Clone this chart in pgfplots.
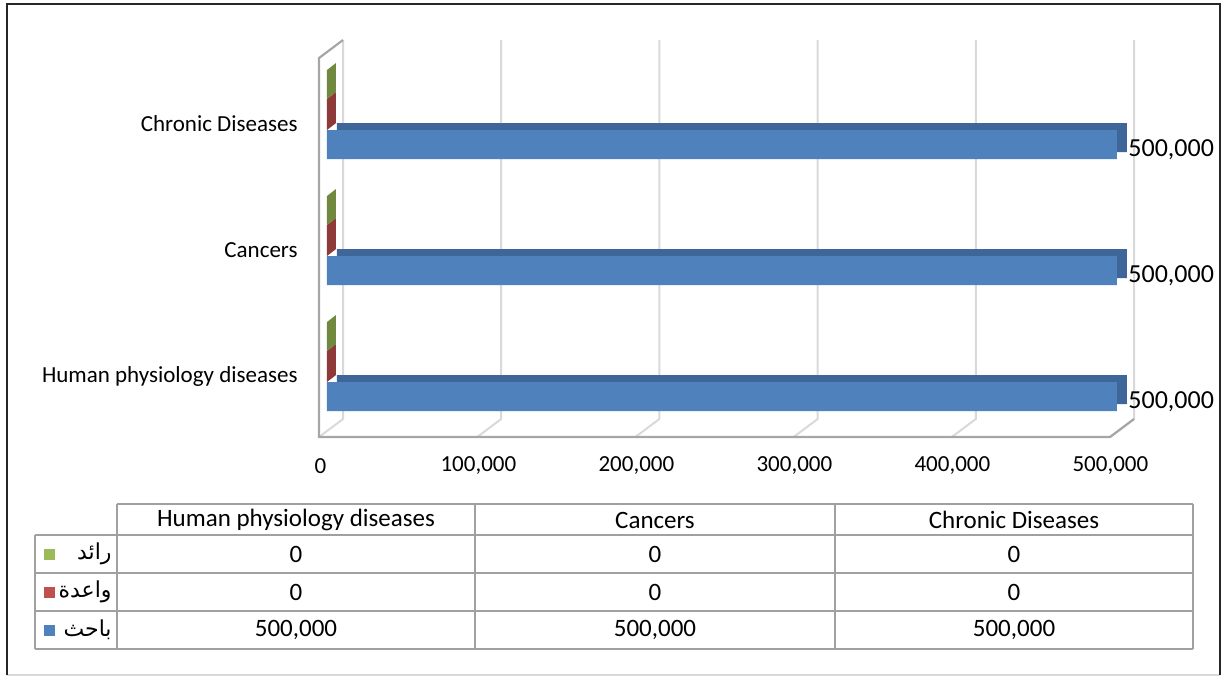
\documentclass[border=0pt]{standalone}
\usepackage{pgfplots}
\usepackage{pgfplotstable}
\pgfplotsset{compat=1.18}
\usepackage{fontspec}
\setmainfont{Carlito}
\newfontfamily\arabicfont[Script=Arabic]{DejaVu Sans}
\TeXXeTstate=1

\definecolor{xblue}{HTML}{4F81BD}
\definecolor{xbluedark}{HTML}{3E6698}
\definecolor{xred}{HTML}{C0504D}
\definecolor{xreddark}{HTML}{8E3A38}
\definecolor{xgreen}{HTML}{9BBB59}
\definecolor{xgreendark}{HTML}{71893F}
\definecolor{gridc}{HTML}{D9D9D9}
\definecolor{wallc}{HTML}{A6A6A6}
\definecolor{tablec}{HTML}{A0A0A0}
\definecolor{framec}{HTML}{262626}

% custom marks: side faces of the zero-length 3D bars
\pgfdeclareplotmark{sliverR}{%
  \pgfpathmoveto{\pgfpoint{0pt}{-3pt}}%
  \pgfpathlineto{\pgfpoint{4.5pt}{0.5pt}}%
  \pgfpathlineto{\pgfpoint{4.5pt}{16pt}}%
  \pgfpathlineto{\pgfpoint{0pt}{12.5pt}}%
  \pgfpathclose\pgfusepathqfill}
\pgfdeclareplotmark{sliverG}{%
  \pgfpathmoveto{\pgfpoint{0pt}{12.5pt}}%
  \pgfpathlineto{\pgfpoint{4.5pt}{16pt}}%
  \pgfpathlineto{\pgfpoint{4.5pt}{30.5pt}}%
  \pgfpathlineto{\pgfpoint{0pt}{27pt}}%
  \pgfpathclose\pgfusepathqfill}

% series: y = category index (0 Human physiology, 1 Cancers, 2 Chronic)
\pgfplotstableread{
y value
0 500000
1 500000
2 500000
}\bahith
\pgfplotstableread{
y value
0 0
1 0
2 0
}\waeda
\pgfplotstableread{
y value
0 0
1 0
2 0
}\raed

\begin{document}
\begin{tikzpicture}
\useasboundingbox (0pt,0pt) rectangle (611pt,338.5pt);
\begin{scope}[x=0.5pt,y=-0.5pt,shift={(0pt,338.5pt)}]
  % outer frame
  \draw[gridc, line width=0.8pt] (7,675) -- (1220,675);
  \draw[framec, line width=1.4pt] (7,675) -- (7,4) -- (1220,4) -- (1220,675);
  % back grid lines and floor diagonals
  \foreach \k in {0,...,5}{
    \pgfmathsetmacro\xb{343+158.2*\k}
    \draw[gridc, line width=1pt] (\xb,40) -- (\xb,419) -- (\xb-24,437);
  }
  % wall and floor edges
  \draw[wallc, line width=1.1pt] (343,40) -- (319,58) -- (319,437) -- (1110,437) -- (1134,419);
\end{scope}

\begin{axis}[
  at={(163.5pt,123pt)}, anchor=south west,
  scale only axis, width=395pt, height=189.5pt,
  xmin=0, xmax=500000, ymin=-0.4365, ymax=2.5714,
  axis line style={draw=none}, tick style={draw=none},
  scaled ticks=false,
  /pgf/number format/.cd, 1000 sep={,}, assume math mode=true, fixed, precision=0,
  /pgfplots/.cd,
  xtick={0,100000,200000,300000,400000,500000},
  ytick={0,1,2},
  yticklabels={Human physiology diseases, Cancers, Chronic Diseases},
  xticklabel style={font=\fontsize{11.5}{13}\selectfont, anchor=center, yshift=-17.5pt, xshift=-3.3pt},
  yticklabel style={font=\fontsize{11.5}{13}\selectfont, anchor=east, inner sep=0pt, xshift=-14.5pt},
  clip=false,
]
  % zero-value bars: only their side faces show
  \addplot[only marks, mark=sliverR, color=xreddark] table[x=value, y=y] {\waeda};
  \addplot[only marks, mark=sliverG, color=xgreendark] table[x=value, y=y] {\raed};
  % 3D depth of the blue bars
  \addplot[xbar, bar width=14.5pt, bar shift=-10.25pt, fill=xbluedark, draw=none,
    xshift=5pt, yshift=3.5pt] table[x=value, y=y] {\bahith};
  % blue bars with value labels
  \addplot[xbar, bar width=14.5pt, bar shift=-10.25pt, fill=xblue, draw=none,
    point meta=x,
    nodes near coords={\pgfmathprintnumber{\pgfplotspointmeta}},
    every node near coord/.append style={anchor=west, inner sep=0pt, xshift=5.5pt, yshift=-13pt,
      font=\fontsize{13}{15}\selectfont, text=black}]
    table[x=value, y=y] {\bahith};
\end{axis}

\begin{scope}[x=0.5pt,y=-0.5pt,shift={(0pt,338.5pt)}]
  % data table grid
  \draw[tablec, line width=1pt] (117,504) -- (1193,504);
  \draw[tablec, line width=1pt] (35,535) -- (1193,535);
  \draw[tablec, line width=1pt] (35,573) -- (1193,573);
  \draw[tablec, line width=1pt] (35,611) -- (1193,611);
  \draw[tablec, line width=1pt] (35,649) -- (1193,649);
  \draw[tablec, line width=1pt] (35,535) -- (35,649);
  \draw[tablec, line width=1pt] (117,504) -- (117,649);
  \draw[tablec, line width=1pt] (475,504) -- (475,649);
  \draw[tablec, line width=1pt] (835,504) -- (835,649);
  \draw[tablec, line width=1pt] (1193,504) -- (1193,649);
  \begin{scope}[font=\fontsize{12.5}{14}\selectfont]
    \node at (296,520) {Human physiology diseases};
    \node at (655,520) {Cancers};
    \node at (1014,520) {Chronic Diseases};
    \node at (296,554) {0};
    \node at (655,554) {0};
    \node at (1014,554) {0};
    \node at (296,592) {0};
    \node at (655,592) {0};
    \node at (1014,592) {0};
    \node at (296,630) {500,000};
    \node at (655,630) {500,000};
    \node at (1014,630) {500,000};
  \end{scope}
  % legend keys
  \fill[xgreen] (44,549) rectangle (55,560);
  \fill[xred]   (44,587) rectangle (55,598);
  \fill[xblue]  (44,625) rectangle (55,636);
  \begin{scope}[font=\fontsize{11}{13}\selectfont]
    \node[anchor=east, inner sep=0pt] at (112,554) {\arabicfont\beginR رائد\endR};
    \node[anchor=east, inner sep=0pt] at (112,592) {\arabicfont\beginR واعدة\endR};
    \node[anchor=east, inner sep=0pt] at (112,630) {\arabicfont\beginR باحث\endR};
  \end{scope}
\end{scope}
\end{tikzpicture}
\end{document}
